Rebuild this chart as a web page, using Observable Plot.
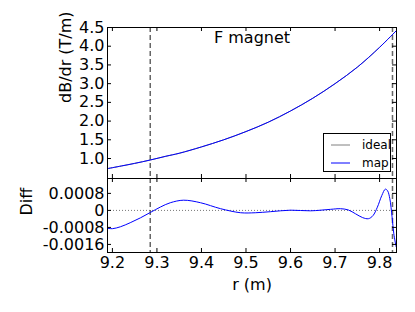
<!DOCTYPE html>
<html>
<head>
<meta charset="utf-8">
<script src="https://cdn.jsdelivr.net/npm/d3@7"></script>
<script src="https://cdn.jsdelivr.net/npm/@observablehq/plot@0.6"></script>
<style>
  body { margin: 0; background: white; font-family: "DejaVu Sans", sans-serif; }
  #wrap { position: relative; width: 415px; height: 312px; overflow: hidden; }
  #wrap > svg { position: absolute; left: 0; overflow: visible; }
  #legend { position: absolute; left: 323px; top: 133px; width: 66px; height: 37px;
            border: 1px solid black; background: white; font-size: 12px; }
</style>
</head>
<body>
<div id="wrap"></div>
<script>
// ---- data ----
const rGrad = [9.189, 9.22, 9.25, 9.285, 9.32, 9.35, 9.40, 9.45, 9.50, 9.55, 9.60, 9.65, 9.70, 9.75, 9.80, 9.838];
const dBdr  = [0.73, 0.80, 0.87, 0.96, 1.06, 1.14, 1.31, 1.50, 1.72, 1.97, 2.27, 2.61, 3.00, 3.44, 3.97, 4.42];

const rDiff = [9.189, 9.200, 9.218, 9.240, 9.263, 9.285, 9.308, 9.330, 9.360, 9.398, 9.443, 9.488, 9.521, 9.555, 9.600, 9.645, 9.690, 9.712, 9.730, 9.746, 9.762, 9.775, 9.785, 9.795, 9.805, 9.813, 9.818, 9.823, 9.828, 9.832, 9.837];
const diff  = [-0.00084, -0.00086, -0.00077, -0.00058, -0.00035, -0.00010, 0.00016, 0.00036, 0.00048, 0.00036, 0.00008, -0.00011, -0.00011, -0.00006, 0.00001, -0.00002, 0.00005, 0.00008, 0.00002, -0.00016, -0.00034, -0.00039, -0.00025, 0.00015, 0.00070, 0.00100, 0.00092, 0.00055, -0.00030, -0.00110, -0.00170];

const edges = [9.285, 9.829];             // dashed vertical lines
const xTicks = [9.2, 9.3, 9.4, 9.5, 9.6, 9.7, 9.8];
const yTopTicks = [1.0, 1.5, 2.0, 2.5, 3.0, 3.5, 4.0, 4.5];
const yDiffTicks = [0.0008, 0, -0.0008, -0.0016];
const title = "F magnet";
const yTopLabel = "dB/dr (T/m)";
const yDiffLabel = "Diff";
const xLabel = "r (m)";
const legendItems = ["ideal", "map"];

// ---- build ----
const grad = rGrad.map((r, i) => ({r, v: dBdr[i]}));
const dd = rDiff.map((r, i) => ({r, v: diff[i]}));
const xDomain = [9.189, 9.838];
const W = 415, ML = 107, MR = 19;
const innerW = W - ML - MR;
const tl = 4;
const plotStyle = {fontFamily: "DejaVu Sans", fontSize: "16px", background: "transparent", overflow: "visible", color: "black"};
const fmtDiff = d => d === 0 ? "0" : (d < 0 ? "-" : "") + Math.abs(d).toFixed(4);

function inwardTicks(xt, yt, innerH) {
  return [
    Plot.tickX(xt, {x: d => d, stroke: "black", insetTop: innerH - tl}),
    Plot.tickX(xt, {x: d => d, stroke: "black", insetBottom: innerH - tl}),
    Plot.tickY(yt, {y: d => d, stroke: "black", insetRight: innerW - tl}),
    Plot.tickY(yt, {y: d => d, stroke: "black", insetLeft: innerW - tl})
  ];
}

const topH = 178, topMT = 27;
const topPlot = Plot.plot({
  width: W, height: topH, marginLeft: ML, marginRight: MR, marginTop: topMT, marginBottom: 0,
  style: plotStyle,
  x: {domain: xDomain, axis: null},
  y: {domain: [0.466, 4.5], axis: null},
  marks: [
    Plot.ruleX(edges, {x: d => d, stroke: "#666", strokeWidth: 1.5, strokeDasharray: "5,3"}),
    Plot.line(grad, {x: "r", y: "v", stroke: "#808080", strokeWidth: 1, curve: "catmull-rom"}),
    Plot.line(grad, {x: "r", y: "v", stroke: "#0000ff", strokeWidth: 1, curve: "catmull-rom"}),
    ...inwardTicks(xTicks, yTopTicks, topH - topMT),
    Plot.axisY(yTopTicks, {anchor: "left", tickSize: 0, tickPadding: 3, tickFormat: d3.format(".1f"), label: null, fontSize: 16}),
    Plot.text([yTopLabel], {frameAnchor: "left", dx: -42, rotate: -90, text: d => d, fontSize: 16}),
    Plot.text([title], {frameAnchor: "top", lineAnchor: "middle", dy: 10, text: d => d, fontSize: 16}),
    Plot.frame({stroke: "black"})
  ]
});
topPlot.style.top = "0px";

const botTop = 178, botH = 134, botMB = 60;
const botPlot = Plot.plot({
  width: W, height: botH, marginLeft: ML, marginRight: MR, marginTop: 0, marginBottom: botMB,
  style: plotStyle,
  x: {domain: xDomain, axis: null},
  y: {domain: [-0.00198, 0.0015], axis: null},
  marks: [
    Plot.ruleY([0], {y: d => d, stroke: "#777", strokeDasharray: "1,2"}),
    Plot.ruleX(edges, {x: d => d, stroke: "#666", strokeWidth: 1.5, strokeDasharray: "5,3"}),
    Plot.line(dd, {x: "r", y: "v", stroke: "#0000ff", strokeWidth: 1, curve: "catmull-rom"}),
    ...inwardTicks(xTicks, yDiffTicks, botH - botMB),
    Plot.axisY(yDiffTicks, {anchor: "left", tickSize: 0, tickPadding: 3, tickFormat: fmtDiff, label: null, fontSize: 16}),
    Plot.axisX(xTicks, {anchor: "bottom", tickSize: 0, tickPadding: 4, tickFormat: d3.format(".1f"), label: null, fontSize: 16}),
    Plot.text([yDiffLabel], {frameAnchor: "left", dx: -81, rotate: -90, text: d => d, fontSize: 16}),
    Plot.text([xLabel], {frameAnchor: "bottom", lineAnchor: "middle", dy: 32, text: d => d, fontSize: 16}),
    Plot.frame({stroke: "black"})
  ]
});
botPlot.style.top = botTop + "px";

const wrap = document.getElementById("wrap");
wrap.appendChild(topPlot);
wrap.appendChild(botPlot);

// legend
const legend = document.createElement("div");
legend.id = "legend";
const colors = {ideal: "#808080", map: "#0000ff"};
legend.innerHTML = legendItems.map((k, i) =>
  `<div style="position:absolute;left:7px;top:${4 + i * 18}px;height:14px;display:flex;align-items:center;">
     <svg width="19" height="14"><line x1="0" x2="19" y1="7" y2="7" stroke="${colors[k]}" stroke-width="1"/></svg>
     <span style="margin-left:12px;line-height:14px">${k}</span>
   </div>`).join("");
wrap.appendChild(legend);
</script>
</body>
</html>
